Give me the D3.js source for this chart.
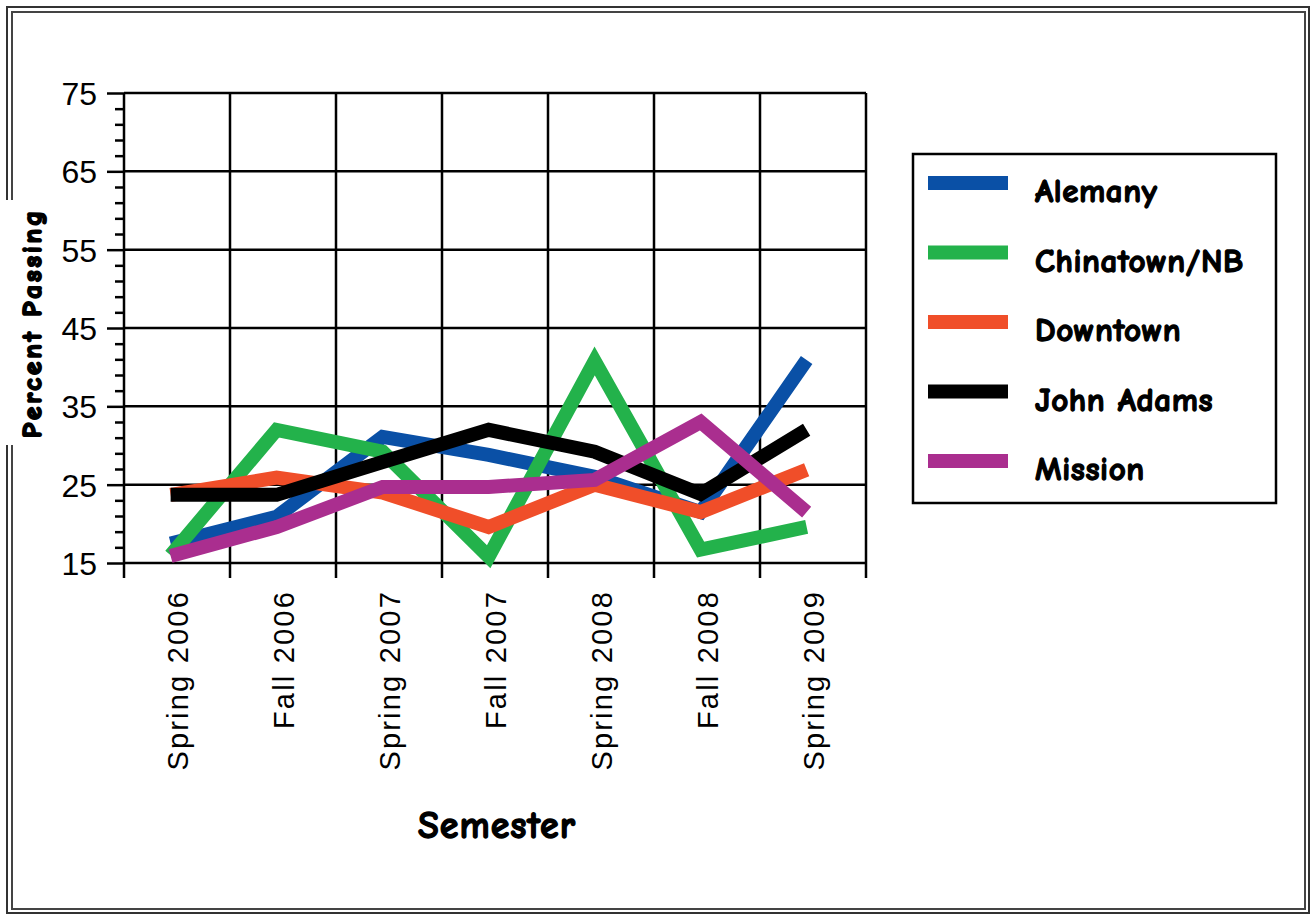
<!DOCTYPE html>
<html>
<head>
<meta charset="utf-8">
<script src="https://cdn.jsdelivr.net/npm/d3@7"></script>
<style>
  body { margin: 0; background: #fff; }
  .comic { font-family: "Comic Sans MS", "Comic Neue", Lato, sans-serif; font-weight: bold;
           stroke: #000; stroke-width: 1.3px; paint-order: stroke; }
</style>
</head>
<body>
<div id="chart"></div>
<script>
// data
const semesters = ["Spring 2006", "Fall 2006", "Spring 2007", "Fall 2007", "Spring 2008", "Fall 2008", "Spring 2009"];
const schools = ["Alemany", "Chinatown/NB", "Downtown", "John Adams", "Mission"];
const colors = ["#0a50a6", "#23b24b", "#f04e29", "#000000", "#aa2e8f"];
const alemany = [17.5, 20.9, 31.1, 28.8, 26.0, 21.5, 40.9];
const chinatown = [16.0, 32.0, 29.2, 15.8, 40.8, 16.7, 19.6];
const downtown = [23.7, 25.9, 24.0, 19.6, 25.0, 21.5, 26.9];
const johnAdams = [23.7, 23.7, 27.9, 32.0, 29.2, 23.8, 32.0];
const mission = [15.9, 19.6, 24.7, 24.7, 25.6, 33.0, 21.5];
const yMajorTicks = [15, 25, 35, 45, 55, 65, 75];

const series = [alemany, chinatown, downtown, johnAdams, mission];

const W = 1312, H = 915;
const svg = d3.select("#chart").append("svg")
    .attr("width", W).attr("height", H);

// outer double frame
svg.append("rect").attr("x", 7).attr("y", 7).attr("width", 1302).attr("height", 906)
    .attr("fill", "none").attr("stroke", "#333").attr("stroke-width", 2);
svg.append("rect").attr("x", 12).attr("y", 12).attr("width", 1293).attr("height", 897)
    .attr("fill", "none").attr("stroke", "#444").attr("stroke-width", 2);

// plot area
const pLeft = 124, pRight = 866, pTop = 93, pBottom = 563;

const x = d3.scaleBand().domain(semesters).range([pLeft, pRight]).padding(0);
const y = d3.scaleLinear().domain([15, 75]).range([pBottom, pTop]);
const px = d => x(d) + x.bandwidth() * 0.44;

const grid = svg.append("g").attr("stroke", "#000").attr("stroke-width", 2.5);

// horizontal gridlines
grid.selectAll(".hg").data(yMajorTicks).join("line")
    .attr("x1", pLeft).attr("x2", pRight)
    .attr("y1", d => y(d)).attr("y2", d => y(d));

// vertical gridlines + ticks below the axis
const edges = semesters.map(d => x(d)).concat([pRight]);
grid.selectAll(".vg").data(edges).join("line")
    .attr("x1", d => d).attr("x2", d => d)
    .attr("y1", pTop).attr("y2", pBottom + 15);

// y axis ticks
const yAxis = d3.axisLeft(y).tickValues(yMajorTicks).tickSize(17).tickPadding(10);
const ya = svg.append("g").attr("transform", `translate(${pLeft},0)`).call(yAxis);
ya.select(".domain").remove();
ya.selectAll("line").attr("stroke", "#000").attr("stroke-width", 2.5);
ya.selectAll("text")
    .attr("font-family", "Liberation Sans, Arial, sans-serif")
    .attr("font-size", 32).attr("fill", "#000").attr("dy", "0.36em");

const yMinor = d3.axisLeft(y).tickValues(d3.range(15, 76, 2).filter(v => !yMajorTicks.includes(v)))
    .tickSize(9).tickFormat("");
const ym = svg.append("g").attr("transform", `translate(${pLeft},0)`).call(yMinor);
ym.select(".domain").remove();
ym.selectAll("line").attr("stroke", "#000").attr("stroke-width", 2.5);

// x tick labels (rotated)
svg.append("g").selectAll("text").data(semesters).join("text")
    .attr("transform", d => `translate(${px(d) + 17},590) rotate(-90)`)
    .attr("text-anchor", "end")
    .attr("font-family", "Liberation Sans, Arial, sans-serif")
    .attr("font-size", 29).attr("letter-spacing", 2.2)
    .attr("fill", "#000")
    .text(d => d);

// lines
const line = d3.line()
    .x((d, i) => px(semesters[i]))
    .y(d => y(d));

svg.append("g").selectAll("path").data(series).join("path")
    .attr("d", d => line(d))
    .attr("fill", "none")
    .attr("stroke", (d, i) => colors[i])
    .attr("stroke-width", 14)
    .attr("stroke-linejoin", "miter");

// y axis title (white patch breaks the frame like the reference)
svg.append("rect").attr("x", 4).attr("y", 200).attr("width", 44).attr("height", 245).attr("fill", "#fff");
svg.append("text").attr("class", "comic")
    .attr("transform", "translate(41,323) rotate(-90)")
    .attr("text-anchor", "middle")
    .attr("font-size", 27).attr("letter-spacing", 3)
    .style("stroke-width", "2px")
    .text("Percent Passing");

// x axis title
svg.append("text").attr("class", "comic")
    .attr("x", 497).attr("y", 838)
    .attr("text-anchor", "middle")
    .attr("font-size", 38).attr("letter-spacing", 1)
    .text("Semester");

// legend
const lg = svg.append("g");
lg.append("rect").attr("x", 913).attr("y", 154).attr("width", 363).attr("height", 349)
    .attr("fill", "#fff").attr("stroke", "#000").attr("stroke-width", 2.5);
const items = lg.selectAll(".item").data(schools).join("g")
    .attr("transform", (d, i) => `translate(0,${183 + i * 69.5})`);
items.append("rect").attr("x", 928).attr("y", -7).attr("width", 80).attr("height", 14)
    .attr("fill", (d, i) => colors[i]);
items.append("text").attr("class", "comic")
    .attr("x", 1035).attr("y", 19)
    .attr("font-size", 33).attr("letter-spacing", 0.6)
    .text(d => d);
</script>
</body>
</html>
